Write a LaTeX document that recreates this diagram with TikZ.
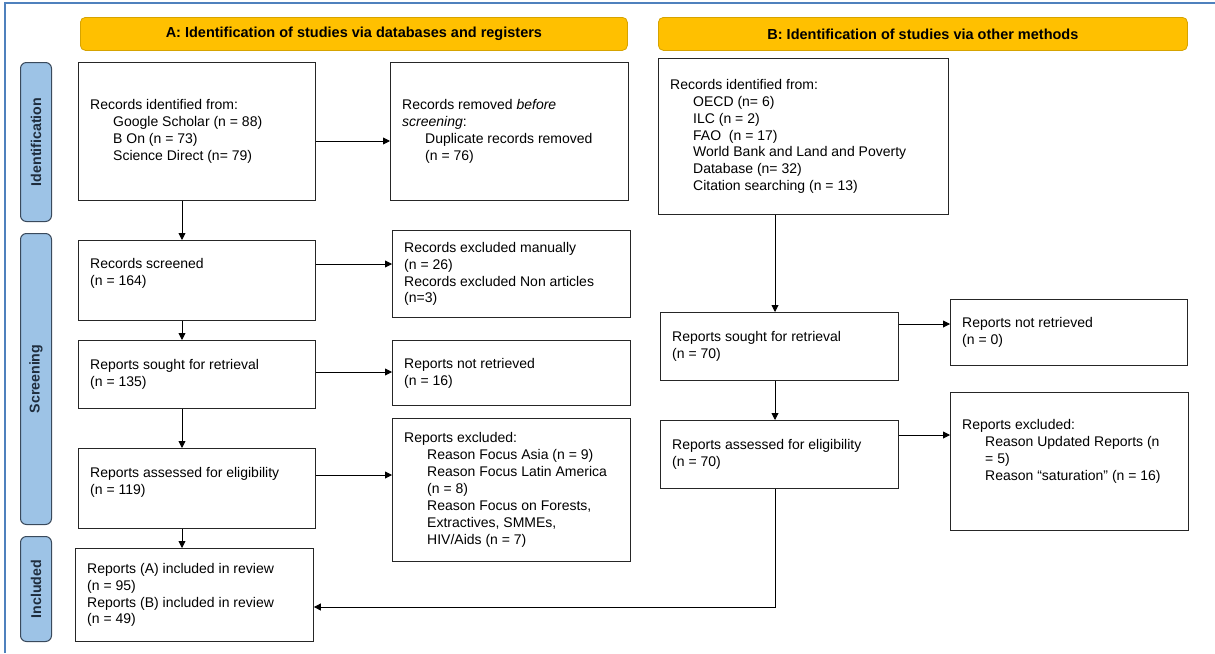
\documentclass[tikz,border=0pt]{standalone}
\usepackage{fontspec}
\setmainfont{Liberation Sans}
\usetikzlibrary{arrows.meta}
\definecolor{hdrfill}{HTML}{FFC000}
\definecolor{hdrline}{HTML}{D6A300}
\definecolor{sidefill}{HTML}{9DC3E6}
\definecolor{sideline}{HTML}{3A4A5C}
\definecolor{sidetext}{HTML}{1F2D3D}
\definecolor{framecol}{HTML}{4F81BD}
\begin{document}
\begin{tikzpicture}[x=1pt,y=-1pt,
  box/.style={draw=black!85, line width=0.9pt, fill=white, inner sep=0pt, anchor=north west},
  txt/.style={anchor=west, align=left, inner sep=0pt, font=\fontsize{14}{16.9}\selectfont},
  hdr/.style={draw=hdrline, line width=0.8pt, fill=hdrfill, rounded corners=5pt, inner sep=0pt, anchor=north west, font=\bfseries\fontsize{14.5}{16}\selectfont},
  side/.style={draw=sideline, line width=1pt, fill=sidefill, rounded corners=6pt, inner sep=0pt, anchor=north west},
  sidetxt/.style={rotate=90, inner sep=0pt, font=\bfseries\fontsize{14.2}{16}\selectfont, text=sidetext},
  arr/.style={-{Triangle[length=7pt,width=7pt]}, line width=0.9pt}
]
\useasboundingbox (0,0) rectangle (1215,653);
% outer frame (top and left edges visible)
\draw[framecol, line width=2pt] (5,653) -- (5,3) -- (1215,3);

% headers
\node[hdr, minimum width=547pt, minimum height=33pt] (hA) at (80,17) {A: Identification of studies via databases and registers};
\node[hdr, minimum width=529pt, minimum height=33pt] (hB) at (658,17) {B: Identification of studies via other methods};

% side labels
\node[side, minimum width=31pt, minimum height=159pt] (sI) at (20,62) {};
\node[sidetxt] (sIt) at (sI.center) {Identification};
\node[side, minimum width=31pt, minimum height=291pt] (sS) at (20,233) {};
\node[sidetxt] (sSt) at (sS.center) {Screening};
\node[side, minimum width=31pt, minimum height=105pt] (sN) at (20,536) {};
\node[sidetxt] (sNt) at (sN.center) {Included};

% column A
\node[box, minimum width=237pt, minimum height=138pt] (a1) at (78,62) {};
\node[txt] (a1t) at ([xshift=12pt]a1.west) {Records identified from:\\\hspace*{23pt}Google Scholar (n = 88)\\\hspace*{23pt}B On (n = 73)\\\hspace*{23pt}Science Direct (n= 79)};
\node[box, minimum width=238pt, minimum height=138pt] (a2) at (390,62) {};
\node[txt] (a2t) at ([xshift=12pt]a2.west) {Records removed \textit{before}\\\textit{screening}:\\\hspace*{23pt}Duplicate records removed\\\hspace*{23pt}(n = 76)};

\node[box, minimum width=237pt, minimum height=80pt] (a3) at (78,240) {};
\node[txt] (a3t) at ([xshift=12pt,yshift=7pt]a3.west) {Records screened\\(n = 164)};
\node[box, minimum width=238pt, minimum height=87pt] (a4) at (392,230) {};
\node[txt] (a4t) at ([xshift=12pt]a4.west) {Records excluded manually\\(n = 26)\\Records excluded Non articles\\(n=3)};

\node[box, minimum width=237pt, minimum height=68pt] (a5) at (78,340) {};
\node[txt] (a5t) at ([xshift=12pt]a5.west) {Reports sought for retrieval\\(n = 135)};
\node[box, minimum width=238pt, minimum height=65pt] (a6) at (392,340) {};
\node[txt] (a6t) at ([xshift=12pt]a6.west) {Reports not retrieved\\(n = 16)};

\node[box, minimum width=237pt, minimum height=80pt] (a7) at (78,448) {};
\node[txt] (a7t) at ([xshift=12pt,yshift=6pt]a7.west) {Reports assessed for eligibility\\(n = 119)};
\node[box, minimum width=238pt, minimum height=143pt] (a8) at (392,418) {};
\node[txt] (a8t) at ([xshift=12pt]a8.west) {Reports excluded:\\\hspace*{23pt}Reason Focus Asia (n = 9)\\\hspace*{23pt}Reason Focus Latin America\\\hspace*{23pt}(n = 8)\\\hspace*{23pt}Reason Focus on Forests,\\\hspace*{23pt}Extractives, SMMEs,\\\hspace*{23pt}HIV/Aids (n = 7)};

\node[box, minimum width=238pt, minimum height=93pt] (a9) at (75,548) {};
\node[txt] (a9t) at ([xshift=12pt]a9.west) {Reports (A) included in review\\(n = 95)\\Reports (B) included in review\\(n = 49)};

% column B
\node[box, minimum width=290pt, minimum height=156pt] (b1) at (658,58) {};
\node[txt] (b1t) at ([xshift=12pt]b1.west) {Records identified from:\\\hspace*{23pt}OECD (n= 6)\\\hspace*{23pt}ILC (n = 2)\\\hspace*{23pt}FAO~ (n = 17)\\\hspace*{23pt}World Bank and Land and Poverty\\\hspace*{23pt}Database (n= 32)\\\hspace*{23pt}Citation searching (n = 13)};

\node[box, minimum width=238pt, minimum height=68pt] (b3) at (660,312) {};
\node[txt] (b3t) at ([xshift=12pt]b3.west) {Reports sought for retrieval\\(n = 70)};
\node[box, minimum width=237pt, minimum height=66pt] (b4) at (950,299) {};
\node[txt] (b4t) at ([xshift=12pt]b4.west) {Reports not retrieved\\(n = 0)};

\node[box, minimum width=238pt, minimum height=68pt] (b5) at (660,420) {};
\node[txt] (b5t) at ([xshift=12pt]b5.west) {Reports assessed for eligibility\\(n = 70)};
\node[box, minimum width=238pt, minimum height=138pt] (b6) at (950,392) {};
\node[txt] (b6t) at ([xshift=12pt,yshift=10pt]b6.west) {Reports excluded:\\\hspace*{23pt}Reason Updated Reports (n\\\hspace*{23pt}= 5)\\\hspace*{23pt}Reason “saturation” (n = 16)};

% connectors column A
\draw[arr] (a1.east |- 0,141) -- (a2.west |- 0,141);
\draw[arr] (a1.south -| 182,0) -- (a3.north -| 182,0);
\draw[arr] (a3.east |- 0,264) -- (a4.west |- 0,264);
\draw[arr] (a3.south -| 182,0) -- (a5.north -| 182,0);
\draw[arr] (a5.east |- 0,372) -- (a6.west |- 0,372);
\draw[arr] (a5.south -| 182,0) -- (a7.north -| 182,0);
\draw[arr] (a7.east |- 0,475) -- (a8.west |- 0,475);
\draw[arr] (a7.south -| 182,0) -- (a9.north -| 182,0);

% connectors column B
\draw[arr] (b1.south -| 775,0) -- (b3.north -| 775,0);
\draw[arr] (b3.east |- 0,324) -- (b4.west |- 0,324);
\draw[arr] (b3.south -| 775,0) -- (b5.north -| 775,0);
\draw[arr] (b5.east |- 0,435) -- (b6.west |- 0,435);
\coordinate (bend) at (775,607);
\draw[arr] (b5.south -| 775,0) -- (bend) -- (a9.east |- bend);
\end{tikzpicture}
\end{document}
